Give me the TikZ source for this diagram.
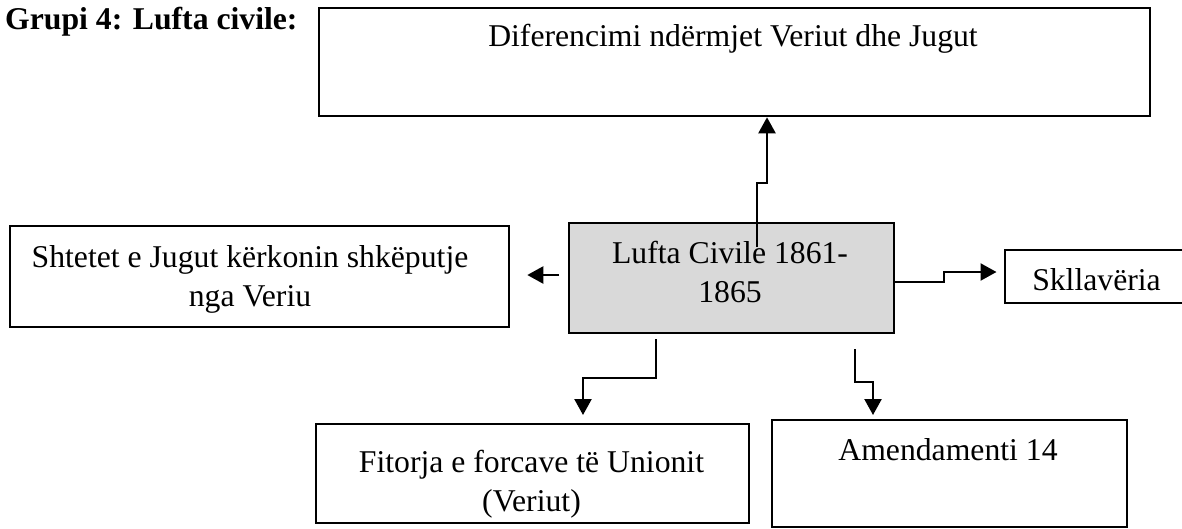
\documentclass[tikz,border=0pt]{standalone}
\usepackage{fontspec}
\setmainfont{Liberation Serif}
\usetikzlibrary{arrows.meta}
\begin{document}
\begin{tikzpicture}[x=1pt,y=-1pt,
  box/.style={draw=black,line width=2.3pt,inner sep=0pt,anchor=north west},
  txt/.style={anchor=base,inner sep=0pt,font=\fontsize{31.7}{39.5}\selectfont},
  conn/.style={line width=2.3pt,-{Triangle[length=16pt,width=17pt]}}]
\useasboundingbox (0,0) rectangle (1182,528);
% title
\node[anchor=base west,inner sep=0pt,font=\fontsize{31.7}{39.5}\selectfont\bfseries] (title) at (5,29) {Grupi 4: Lufta civile:};
% boxes
\node[box,minimum width=831pt,minimum height=108pt] (top) at (318,7) {};
\node[box,fill={rgb,255:red,217;green,217;blue,217},minimum width=325pt,minimum height=110pt] (lc) at (568,222) {};
\node[box,minimum width=499pt,minimum height=101pt] (left) at (9,225) {};
\node[box,minimum width=186pt,minimum height=53pt] (sk) at (1004,249) {};
\node[box,minimum width=433pt,minimum height=99pt] (fit) at (315,423) {};
\node[box,minimum width=355pt,minimum height=107pt] (am) at (771,419) {};
% texts
\node[txt] (ttop) at (733,46) {Diferencimi ndërmjet Veriut dhe Jugut};
\node[txt] (tlc1) at (730,263) {Lufta Civile 1861-};
\node[txt] (tlc2) at (730,302.5) {1865};
\node[txt] (tleft1) at (250,267) {Shtetet e Jugut kërkonin shkëputje};
\node[txt] (tleft2) at (250,306.5) {nga Veriu};
\node[txt] (tsk) at (1096.5,290) {Skllavëria};
\node[txt] (tfit1) at (531.5,472) {Fitorja e forcave të Unionit};
\node[txt] (tfit2) at (531.5,511.5) {(Veriut)};
\node[txt] (tam) at (948,460) {Amendamenti 14};
% connector coordinates
\coordinate (u0) at (757,247);
\coordinate (u1) at (767,183);
\coordinate (l0) at (559,275);
\coordinate (r1) at (944,282);
\coordinate (r2) at (944,272);
\coordinate (b0) at (656,339);
\coordinate (b1) at (583,378);
\coordinate (c0) at (855,349);
\coordinate (c1) at (873,382);
% connectors
\draw[conn] (u0) |- (u1) -- (u1 |- top.south);
\draw[conn,shorten >=17pt] (l0) -- (l0 -| left.east);
\draw[conn,shorten >=7.5pt] (lc.east |- r1) -- (r1) -- (r2) -- (r2 -| sk.west);
\draw[conn,shorten >=8pt] (b0) |- (b1) -- (b1 |- fit.north);
\draw[conn,shorten >=4pt] (c0) |- (c1) -- (c1 |- am.north);
\end{tikzpicture}
\end{document}
